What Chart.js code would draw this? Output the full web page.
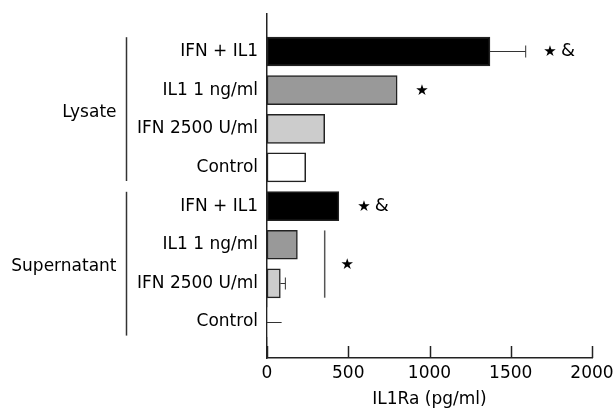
<!DOCTYPE html>
<html>
<head>
<meta charset="utf-8">
<script src="https://cdn.jsdelivr.net/npm/chart.js@4/dist/chart.umd.min.js"></script>
<style>
  html, body { margin: 0; padding: 0; background: #fff; }
  #wrap { width: 615px; height: 414px; position: relative; }
</style>
</head>
<body>
<div id="wrap"><canvas id="c" width="615" height="414"></canvas></div>
<script>
// ---- data ----
const categories = ['IFN + IL1', 'IL1 1 ng/ml', 'IFN 2500 U/ml', 'Control',
                    'IFN + IL1', 'IL1 1 ng/ml', 'IFN 2500 U/ml', 'Control'];
const values = [1372, 801, 355, 238, 442, 187, 82, 0];
const errorsPlus = [220, null, null, null, null, null, 31, 90];
const errorHasCap = [true, false, false, false, false, false, true, false];
const groupNames = ['Lysate', 'Supernatant'];
const groupFirstRow = [0, 4];
const groupLastRow = [3, 7];
const xTicks = [0, 500, 1000, 1500, 2000];
const xTitle = 'IL1Ra (pg/ml)';
// significance marks: row index, x value, text
const markRows = [0, 1, 4, 5.5];
const markValues = [1741, 953, 596, 493];
const markTexts = ['★&', '★', '★&', '★'];
// bracket joining supernatant IL1 / IFN rows
const sigBracketRows = [5, 6];
const sigBracketValue = 355;

// ---- styles ----
const FONT = '"DejaVu Sans", sans-serif';
const FSIZE = 17;
const barFill = ['#000000', '#999999', '#cccccc', '#ffffff', '#000000', '#999999', '#cccccc', '#ffffff'];
const INK = '#222222';

const overlay = {
  id: 'overlay',
  afterDraw(chart) {
    const ctx = chart.ctx;
    const xs = chart.scales.x, ys = chart.scales.y;
    const area = chart.chartArea;
    ctx.save();
    // inward tick marks on x axis
    ctx.strokeStyle = INK; ctx.lineWidth = 1.5;
    xs.ticks.forEach(t => {
      const px = Math.round(xs.getPixelForValue(t.value)) + 0.5;
      ctx.beginPath(); ctx.moveTo(px, area.bottom); ctx.lineTo(px, area.bottom - 12); ctx.stroke();
    });
    // error bars
    ctx.lineWidth = 1; ctx.strokeStyle = '#333';
    values.forEach((v, i) => {
      if (errorsPlus[i] == null) return;
      const y = Math.round(ys.getPixelForValue(i)) + 0.5;
      const x0 = xs.getPixelForValue(v);
      const x1 = xs.getPixelForValue(v + errorsPlus[i]);
      ctx.beginPath(); ctx.moveTo(x0, y); ctx.lineTo(x1, y); ctx.stroke();
      if (errorHasCap[i]) {
        ctx.beginPath(); ctx.moveTo(x1, y - 6); ctx.lineTo(x1, y + 6); ctx.stroke();
      }
    });
    // significance bracket
    ctx.strokeStyle = '#555'; ctx.lineWidth = 1.5;
    const bx = xs.getPixelForValue(sigBracketValue);
    ctx.beginPath();
    ctx.moveTo(bx, ys.getPixelForValue(sigBracketRows[0] - 0.37));
    ctx.lineTo(bx, ys.getPixelForValue(sigBracketRows[1] + 0.37));
    ctx.stroke();
    // marks
    ctx.fillStyle = '#000';
    markRows.forEach((r, i) => {
      const x = xs.getPixelForValue(markValues[i]);
      const y = ys.getPixelForValue(r);
      const txt = markTexts[i];
      ctx.font = '15px "DejaVu Sans"';
      ctx.textAlign = 'center'; ctx.textBaseline = 'middle';
      ctx.fillText('★', x, y + 1);
      if (txt.indexOf('&') >= 0) {
        ctx.font = '18px ' + FONT;
        ctx.textAlign = 'left';
        ctx.fillText('&', x + 11, y);
      }
    });
    // group brackets and names
    const gx = area.left - 140.5;
    ctx.strokeStyle = '#333'; ctx.lineWidth = 1.5;
    ctx.font = FSIZE + 'px ' + FONT;
    ctx.textAlign = 'right'; ctx.textBaseline = 'middle';
    groupNames.forEach((g, i) => {
      const yTop = ys.getPixelForValue(groupFirstRow[i] - 0.37);
      const yBot = ys.getPixelForValue(groupLastRow[i] + 0.35);
      ctx.beginPath(); ctx.moveTo(gx, yTop); ctx.lineTo(gx, yBot); ctx.stroke();
      const yMid = ys.getPixelForValue((groupFirstRow[i] + groupLastRow[i]) / 2);
      ctx.fillText(g, gx - 10, yMid + 3);
    });
    ctx.restore();
  }
};

new Chart(document.getElementById('c'), {
  type: 'bar',
  data: {
    datasets: [{
      data: values.map((v, i) => ({ x: v, y: i })),
      backgroundColor: barFill,
      borderColor: '#222',
      borderWidth: values.map(v => v > 0 ? 1.5 : 0),
      borderSkipped: false,
      barThickness: 29
    }]
  },
  options: {
    indexAxis: 'y',
    responsive: false,
    animation: false,
    devicePixelRatio: 1,
    layout: { padding: { top: 14, right: 23, bottom: 0, left: 0 } },
    plugins: { legend: { display: false }, tooltip: { enabled: false } },
    scales: {
      x: {
        type: 'linear',
        min: 0, max: 2000,
        afterBuildTicks: s => { s.ticks = xTicks.map(v => ({ value: v })); },
        grid: { display: false, drawTicks: false },
        border: { display: true, color: INK, width: 1.5 },
        ticks: { color: '#000', font: { family: FONT, size: FSIZE }, padding: 5, maxRotation: 0,
                 callback: v => String(v) },
        title: { display: true, text: xTitle, color: '#000', font: { family: FONT, size: FSIZE }, padding: { top: 0, bottom: 4 } },
        afterFit: s => { s.height = 56; s.paddingRight = 0; s.paddingLeft = 0; }
      },
      y: {
        type: 'linear',
        reverse: true,
        offset: false,
        min: -0.97, max: 7.93,
        afterBuildTicks: s => { s.ticks = categories.map((c, i) => ({ value: i })); },
        grid: { display: false, drawTicks: false, offset: false },
        border: { display: true, color: INK, width: 1.5 },
        ticks: {
          color: '#000', font: { family: FONT, size: FSIZE }, padding: 9,
          callback: (v) => categories[v] !== undefined ? categories[v] : ''
        },
        afterFit: s => { s.width = 267; s.paddingTop = 0; s.paddingBottom = 0; }
      }
    }
  },
  plugins: [overlay]
});
</script>
</body>
</html>
